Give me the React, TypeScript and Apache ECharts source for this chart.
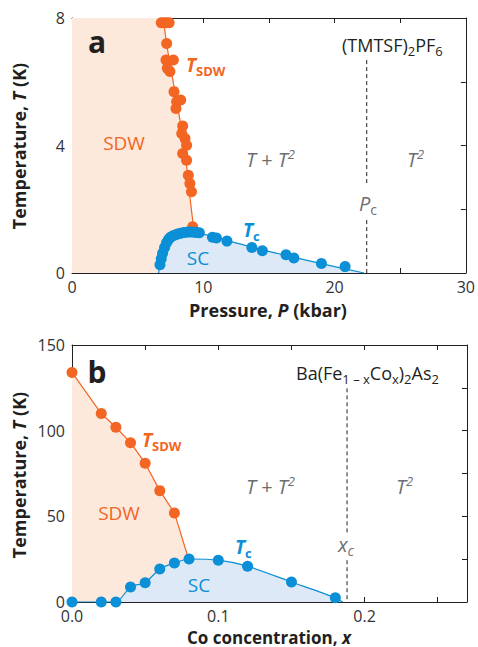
import React, { useEffect, useRef } from "react";
import * as echarts from "echarts";

// ---------- Panel a: (TMTSF)2PF6 ----------
const pressureSdwA = [6.8, 7.0, 7.2, 7.4, 7.21, 7.16, 7.72, 7.46, 7.26, 7.77, 7.97, 8.28, 7.92, 8.43, 8.36, 8.61, 8.73, 8.43, 8.73, 8.86, 8.98, 9.1, 9.19];
const tempSdwA = [7.85, 7.85, 7.85, 7.85, 7.2, 6.68, 6.68, 6.32, 6.42, 5.69, 5.37, 5.43, 5.16, 4.61, 4.38, 4.22, 4.01, 3.75, 3.54, 3.07, 2.81, 2.55, 1.45];
const pressureScA = [6.7, 6.8, 6.9, 7.05, 7.2, 7.35, 7.5, 7.7, 7.9, 8.1, 8.3, 8.5, 8.7, 8.9, 9.1, 9.3, 9.5, 9.7, 10.7, 11.0, 11.8, 13.7, 14.5, 16.3, 16.9, 19.0, 20.8];
const tempScA = [0.26, 0.45, 0.62, 0.8, 0.95, 1.05, 1.12, 1.17, 1.2, 1.23, 1.25, 1.27, 1.28, 1.29, 1.29, 1.28, 1.27, 1.26, 1.12, 1.1, 1.0, 0.8, 0.7, 0.57, 0.47, 0.3, 0.2];
const sdwLineA = [[6.95, 8], [7.2, 7.2], [7.45, 6.6], [7.75, 5.9], [8.05, 5.2], [8.35, 4.5], [8.6, 3.8], [8.8, 3.1], [8.95, 2.5], [9.15, 1.8], [9.3, 1.3]];
const scLineA = [[6.6, 0], [6.75, 0.4], [7.0, 0.78], [7.4, 1.05], [8.0, 1.2], [9.0, 1.27], [10.0, 1.22], [12, 1.0], [14, 0.78], [16, 0.58], [18, 0.39], [20, 0.2], [22.25, 0]];
const criticalPressure = 22.45;
const criticalSpansA = [[6.68, 2.75], [1.66, 0]];
const xTicksA = { min: 0, max: 30, interval: 5 };
const yTicksA = { min: 0, max: 8, interval: 2 };

// ---------- Panel b: Ba(Fe1-xCox)2As2 ----------
const coSdw = [0, 0.02, 0.03, 0.04, 0.05, 0.06, 0.07];
const tempSdwB = [134, 110, 102, 93, 81, 65, 52];
const sdwEndB = [0.079, 27];
const coSc = [0, 0.02, 0.03, 0.04, 0.05, 0.06, 0.07, 0.08, 0.1, 0.12, 0.15, 0.18];
const tempScB = [0, 0, 0, 8.8, 11.3, 19.3, 22.8, 25.1, 24.4, 20.9, 11.7, 2.5];
const scEndB = [0.185, 0];
const criticalCo = 0.188;
const criticalSpansB = [[124.7, 40], [24.4, 0]];
const xTicksB = { min: 0, max: 0.27, interval: 0.05 };
const yTicksB = { min: 0, max: 150, interval: 25 };

const FONT = "'Open Sans', 'Noto Sans', sans-serif";
const INK = "#231f20";
const GRAY = "#6d6e71";
const ORANGE = "#f26522";
const BLUE = "#0b8fd6";
const ORANGE_FILL = "#fde8dc";
const BLUE_FILL = "#dde9f6";

function zip(xs: number[], ys: number[]) {
  return xs.map((x, i) => [x, ys[i]]);
}

function axisPair(kind: "x" | "y", grid: number, t: any, labelFmt: (v: number) => string) {
  const common = {
    gridIndex: grid,
    type: "value",
    min: t.min,
    max: t.max,
    interval: t.interval,
    splitLine: { show: false },
    axisLine: { show: true, onZero: false, lineStyle: { color: INK, width: 1 } },
    axisTick: { show: true, inside: true, length: 5, lineStyle: { color: INK, width: 1 } },
  };
  return [
    {
      ...common,
      position: kind === "x" ? "bottom" : "left",
      axisLabel: {
        show: true,
        formatter: labelFmt,
        color: "#333",
        fontFamily: FONT,
        fontSize: 16,
        lineHeight: 16,
        margin: kind === "x" ? 6 : 7,
        showMaxLabel: true,
        showMinLabel: true,
      },
    },
    {
      ...common,
      position: kind === "x" ? "top" : "right",
      axisLabel: { show: false },
    },
  ];
}

function txt(x: number, y: number, text: string, rich: any, align = "left", extra: any = {}) {
  return {
    type: "text",
    x,
    y,
    z: 100,
    ...extra,
    style: { text, rich, align, verticalAlign: "middle", fontFamily: FONT },
  };
}

const r = (o: any) => ({ fontFamily: FONT, ...o });

export default function App() {
  const ref = useRef<HTMLDivElement>(null);
  useEffect(() => {
    if (!ref.current) return;
    const chart = echarts.init(ref.current, null, { renderer: "svg" });

    const near = (v: number, step: number) => Math.abs(v / step - Math.round(v / step)) < 1e-6;
    const [xa0, xa1] = axisPair("x", 0, xTicksA, (v) => (near(v, 10) ? String(v) : ""));
    const [ya0, ya1] = axisPair("y", 0, yTicksA, (v) => (near(v, 4) ? String(v) : ""));
    const [xb0, xb1] = axisPair("x", 1, xTicksB, (v) => (near(v, 0.1) && v <= 0.2 + 1e-9 ? v.toFixed(1) : ""));
    const [yb0, yb1] = axisPair("y", 1, yTicksB, (v) => (near(v, 50) ? String(v) : ""));
    (xb0 as any).axisLabel.margin = 6;
    (yb0 as any).axisLabel.lineHeight = 11;
    (ya0 as any).axisLabel.lineHeight = 11;

    const noSym = { symbol: "none", showSymbol: false };
    const sdwLineB = zip(coSdw, tempSdwB).concat([sdwEndB]);
    const scLineB = zip(coSc, tempScB).concat([scEndB]);

    const dashed = (xi: number, x: number, spans: number[][]) =>
      spans.map((s) => ({
        type: "line", xAxisIndex: xi, yAxisIndex: xi, ...noSym,
        data: [[x, s[0]], [x, s[1]]],
        lineStyle: { color: INK, width: 1, type: [4, 3] }, z: 3,
      }));

    const series: any[] = [
      // panel a fills
      { type: "line", xAxisIndex: 0, yAxisIndex: 0, ...noSym, data: [[0, yTicksA.max], ...sdwLineA, [sdwLineA[sdwLineA.length - 1][0], 0]], lineStyle: { width: 0, opacity: 0 }, areaStyle: { color: ORANGE_FILL, opacity: 1 }, z: 1 },
      { type: "line", xAxisIndex: 0, yAxisIndex: 0, ...noSym, smooth: 0.3, data: scLineA, lineStyle: { width: 0, opacity: 0 }, areaStyle: { color: BLUE_FILL, opacity: 1 }, z: 2 },
      // panel a lines
      { type: "line", xAxisIndex: 0, yAxisIndex: 0, ...noSym, smooth: 0.2, data: sdwLineA, lineStyle: { color: ORANGE, width: 1.2 }, z: 3 },
      { type: "line", xAxisIndex: 0, yAxisIndex: 0, ...noSym, smooth: 0.3, data: scLineA, lineStyle: { color: BLUE, width: 1.2 }, z: 3 },
      ...dashed(0, criticalPressure, criticalSpansA),
      // panel a points
      { type: "scatter", xAxisIndex: 0, yAxisIndex: 0, data: zip(pressureSdwA, tempSdwA), symbolSize: 11, itemStyle: { color: ORANGE, opacity: 1 }, z: 4 },
      { type: "scatter", xAxisIndex: 0, yAxisIndex: 0, data: zip(pressureScA, tempScA), symbolSize: 11, itemStyle: { color: BLUE, opacity: 1 }, z: 5 },

      // panel b fills
      { type: "line", xAxisIndex: 2, yAxisIndex: 2, ...noSym, data: [...sdwLineB, [sdwEndB[0], 0]], lineStyle: { width: 0, opacity: 0 }, areaStyle: { color: ORANGE_FILL, opacity: 1 }, z: 1 },
      { type: "line", xAxisIndex: 2, yAxisIndex: 2, ...noSym, smooth: 0.25, data: scLineB, lineStyle: { width: 0, opacity: 0 }, areaStyle: { color: BLUE_FILL, opacity: 1 }, z: 2 },
      // panel b lines
      { type: "line", xAxisIndex: 2, yAxisIndex: 2, ...noSym, data: sdwLineB, lineStyle: { color: ORANGE, width: 1.2 }, z: 3 },
      { type: "line", xAxisIndex: 2, yAxisIndex: 2, ...noSym, smooth: 0.25, data: scLineB, lineStyle: { color: BLUE, width: 1.2 }, z: 3 },
      ...dashed(2, criticalCo, criticalSpansB),
      // panel b points
      { type: "scatter", xAxisIndex: 2, yAxisIndex: 2, data: zip(coSdw, tempSdwB), symbolSize: 11, itemStyle: { color: ORANGE, opacity: 1 }, z: 4 },
      { type: "scatter", xAxisIndex: 2, yAxisIndex: 2, data: zip(coSc, tempScB), symbolSize: 11, itemStyle: { color: BLUE, opacity: 1 }, z: 5 },
    ];

    const grayRich = {
      i: r({ fontSize: 20, fontStyle: "italic", fill: GRAY }),
      n: r({ fontSize: 20, fill: GRAY }),
      sup: r({ fontSize: 13, fill: GRAY, fontStyle: "italic", padding: [0, 0, 11, 0] }),
      sub: r({ fontSize: 14, fill: GRAY, padding: [12, 0, 0, 0] }),
      subi: r({ fontSize: 14, fill: GRAY, fontStyle: "italic", padding: [12, 0, 0, 0] }),
    };
    const tsdwRich = (c: string) => ({
      t: r({ fontSize: 19, fontStyle: "italic", fontWeight: "bold", fill: c }),
      s: r({ fontSize: 13, fontWeight: "bold", fill: c, padding: [11, 0, 0, 0] }),
    });
    const plainRich = (c: string, size: number, weight = "normal") => ({ p: r({ fontSize: size, fill: c, fontWeight: weight }) });
    const chemRich = {
      n: r({ fontSize: 18, fill: INK }),
      s: r({ fontSize: 13, fill: INK, padding: [11, 0, 0, 0] }),
    };
    const titleRich = (size: number) => ({
      b: r({ fontSize: size, fontWeight: "bold", fill: INK, lineHeight: size }),
      i: r({ fontSize: size, fontWeight: "bold", fontStyle: "italic", fill: INK, lineHeight: size }),
    });

    const graphic: any[] = [
      // panel a
      txt(97, 41, "{p|a}", plainRich(INK, 30, "bold"), "center"),
      txt(342, 45, "{n|(TMTSF)}{s|2}{n|PF}{s|6}", chemRich),
      txt(186, 65, "{t|T}{s|SDW}", tsdwRich(ORANGE)),
      txt(124, 143, "{p|SDW}", plainRich(ORANGE, 19), "center"),
      txt(246, 159, "{i|T}{n| + }{i|T}{sup|2}", grayRich),
      txt(407, 159, "{i|T}{sup|2}", grayRich),
      txt(359, 203, "{i|P}{sub|c}", grayRich),
      txt(243, 230, "{t|T}{s|c}", tsdwRich(BLUE)),
      txt(198, 258, "{p|SC}", plainRich(BLUE, 19), "center"),
      // panel b
      txt(97, 371, "{p|b}", plainRich(INK, 30, "bold"), "center"),
      txt(296, 373, "{n|Ba(Fe}{s|1 \u2013 x}{n|Co}{s|x}{n|)}{s|2}{n|As}{s|2}", chemRich),
      txt(142, 440, "{t|T}{s|SDW}", tsdwRich(ORANGE)),
      txt(119, 513, "{p|SDW}", plainRich(ORANGE, 19), "center"),
      txt(246, 486, "{i|T}{n| + }{i|T}{sup|2}", grayRich),
      txt(396, 486, "{i|T}{sup|2}", grayRich),
      txt(338, 544, "{i|x}{subi|c}", grayRich),
      txt(235, 547, "{t|T}{s|c}", tsdwRich(BLUE)),
      txt(199, 585, "{p|SC}", plainRich(BLUE, 19), "center"),
      // axis titles
      txt(268, 310, "{b|Pressure, }{i|P}{b| (kbar)}", titleRich(18), "center"),
      txt(19, 146, "{b|Temperature, }{i|T}{b| (K)}", titleRich(18), "center", { rotation: Math.PI / 2 }),
      txt(19, 475, "{b|Temperature, }{i|T}{b| (K)}", titleRich(18), "center", { rotation: Math.PI / 2 }),
      txt(269, 637, "{b|Co concentration, }{i|x}", titleRich(17), "center"),
    ];

    chart.setOption({
      animation: false,
      backgroundColor: "#ffffff",
      textStyle: { fontFamily: FONT },
      grid: [
        { left: 72, top: 18, width: 395, height: 255, containLabel: false },
        { left: 72, top: 345, width: 395, height: 257, containLabel: false },
      ],
      xAxis: [xa0, xa1, xb0, xb1],
      yAxis: [ya0, ya1, yb0, yb1],
      series,
      graphic,
    });
    return () => chart.dispose();
  }, []);
  return <div ref={ref} style={{ position: "absolute", left: 0, top: 0, width: 478, height: 647 }} />;
}
